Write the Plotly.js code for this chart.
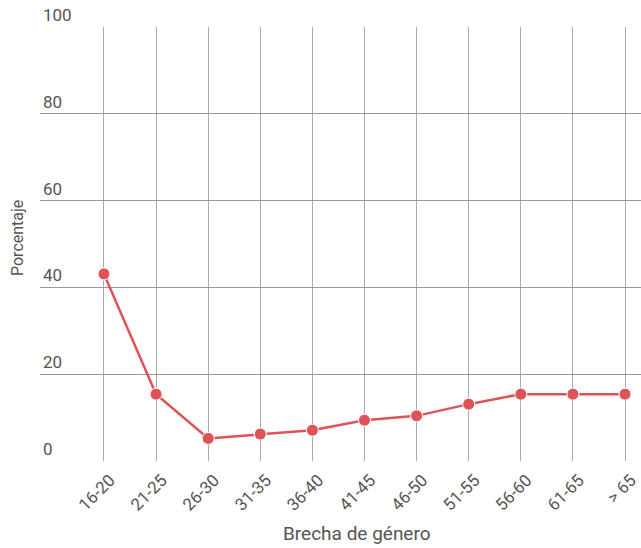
<!DOCTYPE html>
<html><head><meta charset="utf-8">
<script src="https://cdn.plot.ly/plotly-3.0.1.min.js"></script>
<style>html,body{margin:0;padding:0;background:#fff}#chart{width:641px;height:548px}</style>
</head><body><div id="chart"></div>
<script>
const categories = ["16-20","21-25","26-30","31-35","36-40","41-45","46-50","51-55","56-60","61-65","> 65"];
const porcentaje = [43.1, 15.4, 5.2, 6.2, 7.1, 9.4, 10.4, 13.1, 15.4, 15.4, 15.4];
const yTicks = [0, 20, 40, 60, 80, 100];
const xTitle = 'Brecha de género';
const yTitle = 'Porcentaje';

const trace = {
  x: categories.map((c, i) => i),
  y: porcentaje,
  type: 'scatter',
  mode: 'lines+markers',
  line: {color: '#DD5357', width: 2.5},
  marker: {color: '#DD5357', size: 12, line: {color: '#ffffff', width: 1}},
  hoverinfo: 'x+y'
};

const layout = {
  width: 641, height: 548,
  margin: {l: 40, r: 0, t: 27, b: 87},
  paper_bgcolor: '#fff', plot_bgcolor: '#fff',
  font: {family: 'Roboto, sans-serif', color: '#555', size: 16},
  showlegend: false,
  xaxis: {
    range: [-1.228, 10.307],
    tickvals: categories.map((c, i) => i),
    ticktext: categories,
    tickangle: -45,
    showgrid: true, gridcolor: '#aaa', gridwidth: 1,
    zeroline: false, showline: false, ticks: '',
    ticklabelshift: 6, ticklabelstandoff: 5,
    ticklabeloverflow: 'allow',
    tickfont: {size: 17, color: '#555'},
    automargin: false, fixedrange: true
  },
  yaxis: {
    range: [0, 100],
    tickvals: yTicks,
    ticktext: yTicks.map(String),
    ticklabelposition: 'inside top',
    ticklabeloverflow: 'allow',
    showgrid: true, gridcolor: '#999', gridwidth: 1,
    zeroline: false, showline: false, ticks: '',
    tickfont: {size: 17, color: '#555'},
    automargin: false, fixedrange: true
  },
  annotations: [
    {text: xTitle, xref: 'paper', yref: 'paper', x: (357 - 40) / 601, y: (461 - 533) / 434,
     xanchor: 'center', yanchor: 'middle', showarrow: false, font: {size: 19, color: '#555'}},
    {text: yTitle, xref: 'paper', yref: 'paper', x: (18 - 40) / 601, y: (461 - 238) / 434,
     xanchor: 'center', yanchor: 'middle', textangle: -90, showarrow: false, font: {size: 16, color: '#555'}}
  ]
};

Plotly.newPlot('chart', [trace], layout, {displayModeBar: false, staticPlot: true});
</script></body></html>
